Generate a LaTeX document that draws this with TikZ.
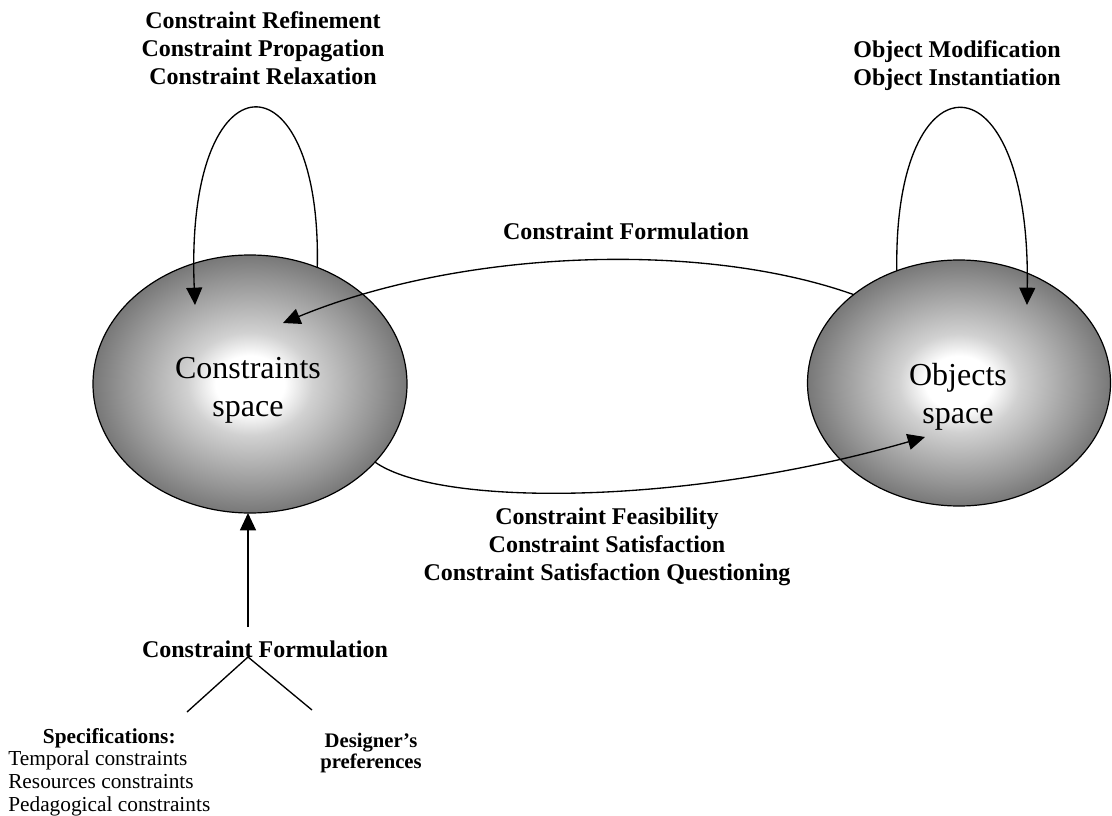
\documentclass[tikz,border=0pt]{standalone}
\usepackage{fontspec}
\setmainfont{Liberation Serif}
\usetikzlibrary{arrows.meta,shapes.geometric}
\pgfdeclareradialshading{ballshade}{\pgfpoint{0bp}{0bp}}{color(0bp)=(white); color(5.5bp)=(white); color(10bp)=(black!18); color(20.5bp)=(black!42); color(25bp)=(black!53); color(50bp)=(black!53)}
\begin{document}
\begin{tikzpicture}[x=0.75pt,y=-0.75pt,
  spacenode/.style={ellipse, draw, line width=0.9pt, shading=ballshade, inner sep=0pt, outer sep=0pt},
  lbl/.style={font=\fontsize{18}{21}\selectfont\bfseries, align=center, inner sep=0pt},
  big/.style={font=\fontsize{24}{28.5}\selectfont, align=center, inner sep=0pt},
  conn/.style={line width=1pt},
  arr/.style={conn, -{Triangle[length=13pt,width=12pt]}}]
\useasboundingbox (0,0) rectangle (1112,816);

% spaces
\node[spacenode, minimum width=235.5pt, minimum height=193.5pt] (cs) at (250,384) {};
\node[spacenode, minimum width=227.25pt, minimum height=184.5pt] (os) at (959,383) {};
\node[big] (cst) at (248,390) {Constraints\\space};
\node[big] (ost) at (958,397) {Objects\\space};

% labels
\node[lbl] (tl) at (263,48) {Constraint Refinement\\Constraint Propagation\\Constraint Relaxation};
\node[lbl] (tr) at (957,66) {Object Modification\\Object Instantiation};
\node[lbl] (cf1) at (626,231) {Constraint Formulation};
\node[lbl] (cfb) at (607,547) {Constraint Feasibility\\Constraint Satisfaction\\Constraint Satisfaction Questioning};
\node[lbl] (cf2) at (265,649) {Constraint Formulation};
\node[font=\fontsize{15.5}{16}\selectfont\bfseries, align=center, inner sep=0pt] (des) at (371,753) {Designer’s\\preferences};
\node[font=\fontsize{16}{17}\selectfont, inner sep=0pt, anchor=north west] (spec) at (8,727)
  {\begin{tabular}{@{}l@{}}\multicolumn{1}{@{}c@{}}{\textbf{Specifications:}}\\Temporal constraints\\Resources constraints\\Pedagogical constraints\end{tabular}};

% coordinates
\coordinate (ltip) at (195,305);
\coordinate (rtip) at (1027,305);
\coordinate (ftip) at (283,323);
\coordinate (stip) at (925,437);
\coordinate (vt) at (248,627);
\coordinate (fork) at (248,657);
\coordinate (forkl) at (187,712);
\coordinate (forkr) at (312,710);

% loops
\draw[arr] (cs.60) .. controls (322,50) and (184,50) .. (ltip);
\draw[arr] (os.119) .. controls (893,50) and (1031,50) .. (rtip);

% arcs between spaces
\draw[arr] (os.140) .. controls (700,240) and (460,250) .. (ftip);
\draw[arr] (cs.-32) .. controls (440,508) and (690,505) .. (stip);

% input
\draw[arr] (vt) -- (vt |- cs.south);
\draw[conn] (forkl) -- (fork) -- (forkr);
\end{tikzpicture}
\end{document}
